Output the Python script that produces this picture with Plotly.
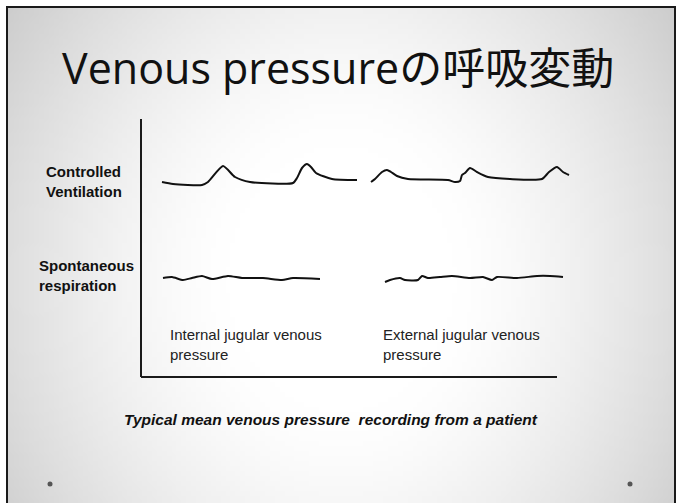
import base64
import struct
import zlib

import plotly.graph_objects as go

# Waveforms: x = distance along the time axis, y = height above the baseline axis
# Controlled ventilation, internal jugular
cv_int_x = [21, 32, 61, 67, 82, 94, 109, 152, 156, 161, 166, 170, 175, 191, 216]
cv_int_y = [195, 193, 192, 195, 211, 200, 195, 194, 199, 209, 213, 210, 204, 198, 197]

# Controlled ventilation, external jugular
cv_ext_x = [230, 234, 241, 246, 250, 256, 267, 307, 314, 319, 321, 324, 329, 336, 347, 369, 401, 408, 416, 422, 428]
cv_ext_y = [195, 198, 205, 207, 205, 201, 198, 197, 195, 196, 202, 204, 209, 205, 200, 198, 198, 205, 210, 205, 202]

# Spontaneous respiration, internal jugular
sp_int_x = [22, 31, 42, 51, 61, 71, 87, 101, 122, 141, 152, 179]
sp_int_y = [99, 100, 97, 99, 101, 98, 101, 99, 99, 97, 99, 98]

# Spontaneous respiration, external jugular
sp_ext_x = [244, 249, 259, 264, 277, 281, 287, 299, 311, 329, 342, 351, 356, 376, 396, 409, 422]
sp_ext_y = [95, 97, 99, 97, 97, 101, 99, 100, 101, 99, 100, 97, 100, 99, 101, 101, 100]

row_labels = ["Controlled<br>Ventilation", "Spontaneous<br>respiration"]
site_labels = ["Internal jugular venous<br>pressure", "External jugular venous<br>pressure"]
title = "Venous pressureの呼吸変動"
caption = "Typical mean venous pressure  recording from a patient"

W, H = 681, 503
OX, OY = 141, 377  # pixel position of the chart origin


def px(x):
    return x / W


def py(y):
    return 1 - y / H


def gradient_png(w, h):
    rows = []
    for j in range(h):
        row = bytearray([0])
        for i in range(w):
            dx = (i / (w - 1) - 0.5) / 0.5
            dy = (j / (h - 1) - 0.55) / 0.55 * 0.7
            r = (dx * dx + dy * dy) ** 0.5
            d = max(0.0, r - 0.35)
            v = int(max(190, 255 - 60 * d ** 1.4))
            row.append(v)
        rows.append(bytes(row))
    raw = b"".join(rows)

    def chunk(tag, data):
        return (struct.pack(">I", len(data)) + tag + data
                + struct.pack(">I", zlib.crc32(tag + data) & 0xffffffff))

    png = (b"\x89PNG\r\n\x1a\n"
           + chunk(b"IHDR", struct.pack(">IIBBBBB", w, h, 8, 0, 0, 0, 0))
           + chunk(b"IDAT", zlib.compress(raw, 9))
           + chunk(b"IEND", b""))
    return "data:image/png;base64," + base64.b64encode(png).decode()


fig = go.Figure()

line_style = dict(color="#111111", width=2, shape="spline", smoothing=0.6)
for xs, ys in [(cv_int_x, cv_int_y), (cv_ext_x, cv_ext_y),
               (sp_int_x, sp_int_y), (sp_ext_x, sp_ext_y)]:
    fig.add_trace(go.Scatter(x=xs, y=ys, mode="lines", line=line_style,
                             hoverinfo="skip", showlegend=False))

# L-shaped axes
fig.add_shape(type="line", xref="x", yref="y", x0=0, y0=0, x1=416, y1=0,
              line=dict(color="#1a1a1a", width=2))
fig.add_shape(type="line", xref="x", yref="y", x0=0, y0=0, x1=0, y1=258,
              line=dict(color="#1a1a1a", width=2))

# slide border
fig.add_shape(type="rect", xref="paper", yref="paper",
              x0=px(7), y0=py(510), x1=px(675), y1=py(7),
              line=dict(color="#1a1a1a", width=2), layer="above")

# bullet dots
for cx in [50, 630]:
    fig.add_shape(type="circle", xref="paper", yref="paper",
                  x0=px(cx - 2.5), x1=px(cx + 2.5), y0=py(486.5), y1=py(481.5),
                  fillcolor="#555555", line=dict(width=0))

label_font = dict(family="Liberation Sans, Arial", size=15, color="#111111")
fig.add_annotation(x=px(44), y=py(181), xref="paper", yref="paper", text="<b>" + row_labels[0] + "</b>",
                   showarrow=False, xanchor="left", yanchor="middle", align="left", font=label_font)
fig.add_annotation(x=px(37), y=py(275), xref="paper", yref="paper", text="<b>" + row_labels[1] + "</b>",
                   showarrow=False, xanchor="left", yanchor="middle", align="left", font=label_font)

site_font = dict(family="Liberation Sans, Arial", size=15, color="#222222")
for xpos, txt in zip([168, 381], site_labels):
    fig.add_annotation(x=px(xpos), y=py(344), xref="paper", yref="paper", text=txt,
                       showarrow=False, xanchor="left", yanchor="middle", align="left", font=site_font)

fig.add_annotation(x=px(331), y=py(419), xref="paper", yref="paper", text="<b><i>" + caption + "</i></b>",
                   showarrow=False, xanchor="center", yanchor="middle",
                   font=dict(family="Liberation Sans, Arial", size=15.5, color="#111111"))

fig.add_annotation(x=px(338), y=py(67), xref="paper", yref="paper", text=title,
                   showarrow=False, xanchor="center", yanchor="middle",
                   font=dict(family="Open Sans, Noto Sans CJK JP", size=43, color="#111111"))

fig.add_layout_image(source=gradient_png(136, 100), xref="paper", yref="paper",
                     x=px(7), y=py(7), sizex=px(675) - px(7), sizey=py(7),
                     sizing="stretch", layer="below", xanchor="left", yanchor="top")

fig.update_layout(
    width=W, height=H,
    margin=dict(l=0, r=0, t=0, b=0),
    paper_bgcolor="white",
    plot_bgcolor="rgba(0,0,0,0)",
    xaxis=dict(range=[-OX, W - OX], domain=[0, 1], visible=False, fixedrange=True),
    yaxis=dict(range=[OY - H, OY], domain=[0, 1], visible=False, fixedrange=True),
)

fig.write_html("out.html", config={"displayModeBar": False},
               post_script="document.body.style.margin='0';document.body.style.overflow='hidden';")
